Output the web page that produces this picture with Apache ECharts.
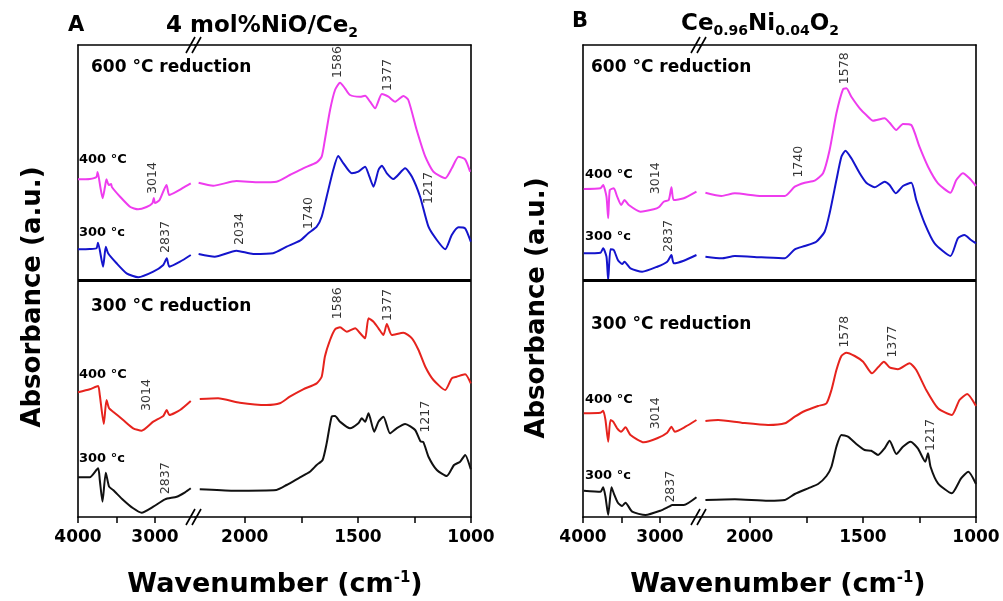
<!DOCTYPE html>
<html><head><meta charset="utf-8">
<script src="https://cdn.jsdelivr.net/npm/echarts@6/dist/echarts.min.js"></script>
<style>html,body{margin:0;padding:0;background:#fff}#c{width:1003px;height:601px}</style>
</head><body><div id="c"></div>
<script>
// ---- axis ticks / labels (wavenumber, cm-1), broken axis ----
const leftRange = [2480, 4000];
const rightRange = [1000, 2220];
const ticksLeft = [3000, 3500, 4000];
const labelsLeft = [3000, 4000];
const ticksRight = [1000, 1250, 1500, 1750, 2000];
const labelsRight = [1000, 1500, 2000];
const absRange = [0, 472];
const dividerLevel = 237;

// ---- Panel A : 4 mol% NiO/CeO2 ----
const A600_400 = [[4000,337.7],[3847,338],[3760,340],[3745,345],[3710,330],[3680,318.7],[3650,330],[3630,337.7],[3600,332],[3570,333],[3560,330],[3450,320],[3320,310],[3220,307.7],[3110,310],[3035,313.7],[3015,319],[3000,314],[2940,317],[2850,332],[2815,322],[2720,325.3],[2610,330.3],[2535,333.7],
 [2204,334.3],[2140,331.3],[2037,336],[1934,334.7],[1860,335.3],[1801,342],[1742,348.7],[1682,354.7],[1660,360.3],[1646,377],[1623,407],[1601,427],[1579,434.3],[1557,428.7],[1535,422],[1490,420.3],[1468,421.3],[1446,415.3],[1424,408.7],[1394,423],[1365,420.3],[1335,415.3],[1299,421],[1277,417],[1240,387],[1202,360.3],[1166,345.3],[1114,338.7],[1085,348.7],[1055,360.3],[1026,357.7],[1004,345.3]];
const A600_300 = [[4000,267.7],[3847,268],[3760,268.7],[3740,274.3],[3674,250.3],[3639,270.3],[3609,263.7],[3499,253.7],[3369,243.7],[3218,239.7],[3022,245.3],[2892,252],[2847,258.7],[2813,250.3],[2674,255.3],[2535,262],
 [2204,263],[2133,260.3],[2037,266.3],[1963,263],[1875,263.7],[1815,270.3],[1756,276.3],[1719,283.7],[1682,290.3],[1660,300.3],[1638,320.3],[1609,347],[1587,361],[1564,353.7],[1527,343.7],[1498,345.3],[1468,350.3],[1449,340.3],[1431,330.3],[1409,347],[1394,351.3],[1372,343.7],[1343,338],[1291,348.7],[1261,340.3],[1225,320.3],[1188,290.3],[1151,277],[1114,267.7],[1085,282],[1055,289.7],[1026,288.7],[1001,275.3]];
const A300_400 = [[4000,124.7],[3847,127.7],[3739,131],[3717,122],[3665,93],[3630,117],[3596,108.7],[3544,105.3],[3413,97],[3283,88.7],[3174,86.3],[3022,95.3],[2892,101],[2847,107],[2813,102],[2674,107],[2535,116],
 [2199,118],[2118,118.7],[2022,114.3],[1904,112],[1845,113.7],[1801,120.3],[1742,127.7],[1682,133.7],[1660,140.3],[1646,160.3],[1623,177],[1601,187.7],[1579,189.7],[1549,185.3],[1512,188.7],[1490,183.7],[1468,178.7],[1453,198.7],[1431,195.3],[1409,188.7],[1387,182],[1372,193],[1350,182],[1299,184.3],[1261,178.7],[1232,167],[1202,150.3],[1166,137],[1114,127],[1085,138.7],[1063,140.3],[1026,142.7],[1001,133.7]];
const A300_300 = [[4000,39.7],[3847,39.7],[3739,48.7],[3717,37],[3682,15.3],[3639,44.3],[3596,30.3],[3544,27],[3413,17],[3283,8.7],[3174,4.3],[3022,10.3],[2870,17.7],[2717,20.3],[2609,24.7],[2535,28.7],
 [2199,27.7],[2052,26.3],[1860,27],[1815,32],[1756,39.7],[1712,45.3],[1682,52],[1656,57],[1638,73.7],[1616,100.3],[1601,101],[1579,95.3],[1535,88.7],[1498,93.7],[1483,98.7],[1468,95.3],[1453,103.7],[1428,85.3],[1409,95.3],[1387,100.3],[1358,83.7],[1329,88.7],[1291,93],[1247,87],[1222,75.3],[1211,75],[1188,60.3],[1151,47],[1107,41],[1075,52],[1048,55.3],[1026,62],[1001,47.7]];
const A_peaks = [[1588,455,'1586'],[1366,442,'1377'],[3026,339,'3014'],[2857,280,'2837'],[2022,288,'2034'],[1716,304,'1740'],[1188,329,'1217'],
 [1588,213.7,'1586'],[1366,212,'1377'],[3108,122,'3014'],[2860,38.7,'2837'],[1200,100.3,'1217']];

// ---- Panel B : Ce0.96Ni0.04O2 ----
const B600_400 = [[3990,328],[3773,328.7],[3738,332],[3695,320.3],[3673,298.7],[3652,327],[3600,328.7],[3556,320.3],[3504,312],[3461,317],[3405,312],[3253,305.3],[3081,307.7],[3016,309.7],[2951,315.3],[2886,317],[2851,329.7],[2821,317],[2691,318.7],[2526,325.3],
 [2196,324.3],[2125,321],[2066,323.7],[1948,321],[1845,321],[1801,330.3],[1757,334.3],[1713,336.3],[1676,343.7],[1647,367],[1617,403.7],[1588,427.7],[1573,428.7],[1551,420.3],[1514,408.7],[1485,402],[1455,396.3],[1404,398.7],[1382,394.3],[1352,387],[1323,393],[1286,392],[1250,370.3],[1212,350.3],[1168,333.7],[1113,324.3],[1087,337],[1058,343.7],[1029,338.7],[1000,331]];
const B600_300 = [[3990,263.7],[3773,264.3],[3738,268.7],[3695,260.3],[3673,237],[3643,267.7],[3600,267],[3547,257],[3491,253],[3461,255.3],[3383,248.7],[3231,245.3],[3036,250.3],[2906,255.3],[2851,262],[2821,253.7],[2691,256.3],[2526,262],
 [2196,260.3],[2125,258.7],[2066,261],[1948,259.7],[1845,258.7],[1801,267.7],[1757,271],[1706,275.3],[1669,285.3],[1647,303.7],[1617,337],[1595,360.3],[1577,366.3],[1551,358.7],[1514,343.7],[1485,334.3],[1448,329.7],[1404,335.3],[1382,332],[1355,323.7],[1323,331],[1286,334.3],[1264,317],[1227,293.7],[1183,273.7],[1113,261],[1080,278.7],[1051,282],[1022,277],[1000,273.7]];
const B300_400 = [[3990,103.7],[3773,104.3],[3738,106.3],[3708,97],[3673,75.3],[3643,97],[3608,95.3],[3556,88.7],[3504,85.3],[3448,89.7],[3383,82],[3210,74.7],[3036,78.7],[2906,84.3],[2851,90.3],[2808,85.3],[2669,90.3],[2526,97],
 [2196,96],[2140,97],[2037,94.3],[1919,92],[1845,93.7],[1801,100.3],[1757,106],[1698,111],[1661,113.7],[1639,127],[1617,147],[1595,161],[1573,164.3],[1536,161],[1499,155.3],[1460,143.7],[1433,149.7],[1407,155.3],[1382,149.7],[1345,147.7],[1294,153.7],[1264,147],[1220,127],[1168,108.7],[1107,102],[1073,117],[1039,123],[1000,111]];
const B300_300 = [[3990,26.3],[3773,25.3],[3738,29.7],[3708,20.3],[3673,2],[3630,29.7],[3600,23.7],[3547,14.3],[3491,11],[3448,14.3],[3361,5.3],[3188,2],[2994,6.3],[2886,10.3],[2838,12],[2691,12],[2526,19.7],
 [2196,17],[2066,17.7],[1919,16.3],[1845,17],[1801,23],[1742,28.7],[1698,33],[1661,41],[1639,50.3],[1617,70.3],[1595,82],[1566,80.3],[1529,73],[1492,67],[1463,66.3],[1433,62],[1404,68.7],[1382,76.3],[1352,63],[1323,70.3],[1289,75.3],[1257,68.7],[1224,55.3],[1212,63.7],[1201,50.3],[1168,33.7],[1107,23.7],[1066,38.7],[1034,45.3],[1000,33]];
const B_peaks = [[1581,448.7,'1578'],[1782,355.3,'1740'],[3058,338.7,'3014'],[2886,281,'2837'],
 [1581,185.3,'1578'],[1367,175.3,'1377'],[3058,103.7,'3014'],[2864,30.3,'2837'],[1198,82,'1217']];

const COLORS = {mag:'#ee3cee', blue:'#1414cc', red:'#e6231d', black:'#111111'};
const FONT = 'DejaVu Sans';

const panels = [
  {x0:78, spectra:[[A600_400,COLORS.mag],[A600_300,COLORS.blue],[A300_400,COLORS.red],[A300_300,COLORS.black]], peaks:A_peaks},
  {x0:583, spectra:[[B600_400,COLORS.mag],[B600_300,COLORS.blue],[B300_400,COLORS.red],[B300_300,COLORS.black]], peaks:B_peaks}
];
const LW = 117, RW = 276, TOP = 45, H = 472;
const BREAK = 2350;

const grid = [], xAxis = [], yAxis = [], series = [];
panels.forEach((p, pi) => {
  [0,1].forEach(side => {
    const g = grid.length;
    grid.push({left: side ? p.x0 + LW : p.x0, width: side ? RW : LW, top: TOP, height: H});
    const rng = side ? rightRange : leftRange;
    const tk = side ? ticksRight : ticksLeft;
    const lb = side ? labelsRight : labelsLeft;
    xAxis.push({type:'value', gridIndex:g, inverse:true, min:rng[0], max:rng[1], position:'bottom',
      axisLine:{show:true, lineStyle:{color:'#000', width:1.6}},
      axisTick:{show:true, inside:false, length:6, lineStyle:{color:'#000', width:1.5}, customValues: tk},
      axisLabel:{show:true, customValues: lb, margin:12, formatter: v => String(v), fontFamily:FONT, fontWeight:'bold', fontSize:17, color:'#000'},
      splitLine:{show:false}});
    xAxis.push({type:'value', gridIndex:g, inverse:true, min:rng[0], max:rng[1], position:'top',
      axisLine:{show:true, lineStyle:{color:'#000', width:1.6}}, axisTick:{show:false}, axisLabel:{show:false}, splitLine:{show:false}});
    yAxis.push({type:'value', gridIndex:g, min:absRange[0], max:absRange[1], position: side ? 'right' : 'left',
      axisLine:{show:true, lineStyle:{color:'#000', width:1.6}}, axisTick:{show:false}, axisLabel:{show:false}, splitLine:{show:false}});
    p.spectra.forEach(([pts, col], si) => {
      const d = pts.filter(q => side ? q[0] < BREAK : q[0] > BREAK);
      const s = {type:'line', xAxisIndex: 2*g, yAxisIndex: g, data: d, showSymbol:false, smooth:0.2,
        lineStyle:{color:col, width:2}, itemStyle:{color:col}, silent:true, animation:false, z:3};
      if (si === 0) {
        s.markLine = {silent:true, symbol:'none', label:{show:false}, animation:false,
          lineStyle:{color:'#000', width:3, type:'solid'}, data:[{yAxis: dividerLevel}]};
      }
      series.push(s);
    });
    series.push({type:'scatter', xAxisIndex: 2*g, yAxisIndex: g, symbolSize:1, itemStyle:{color:'rgba(0,0,0,0)'},
      data: p.peaks.filter(q => side ? q[0] < BREAK : q[0] > BREAK), animation:false, silent:true,
      label:{show:true, position:'inside', rotate:90, formatter: o => o.value[2], fontFamily:FONT, fontSize:12.5, color:'#000'}});
  });
});

function txt(x, y, t, size, opts) {
  return Object.assign({type:'text', x, y, style:Object.assign({text:t, fontFamily:FONT, fontWeight:'bold', fontSize:size, fill:'#000', textAlign:'left', textVerticalAlign:'middle'}, opts||{})});
}
const graphic = [];
// break marks
panels.forEach(p => {
  const bx = p.x0 + LW;
  [TOP, TOP + H].forEach(yy => {
    [-4, 2].forEach(dx => {
      graphic.push({type:'line', shape:{x1:bx+dx-5, y1:yy+8, x2:bx+dx+4, y2:yy-8}, style:{stroke:'#000', lineWidth:1.6}, z:10});
    });
  });
});
const richTitle = {
  a:{fontFamily:FONT, fontWeight:'bold', fontSize:23, fill:'#000'},
  s:{fontFamily:FONT, fontWeight:'bold', fontSize:14, fill:'#000', padding:[15,0,0,0]}
};
graphic.push(
  txt(68, 26, 'A', 21),
  {type:'text', x:262, y:26, style:{text:'{a|4 mol%NiO/Ce}{s|2}', rich:richTitle, textAlign:'center', textVerticalAlign:'middle'}},
  txt(572, 22, 'B', 21),
  {type:'text', x:760, y:24, style:{text:'{a|Ce}{s|0.96}{a|Ni}{s|0.04}{a|O}{s|2}', rich:richTitle, textAlign:'center', textVerticalAlign:'middle'}},
  txt(91, 68, '600 °C reduction', 17), txt(91, 307, '300 °C reduction', 17),
  txt(591, 68, '600 °C reduction', 17), txt(591, 325, '300 °C reduction', 17),
  txt(79, 160, '400 °C', 13), txt(79, 233, '300 °c', 13), txt(79, 375, '400 °C', 13), txt(79, 459, '300 °c', 13),
  txt(585, 175, '400 °C', 13), txt(585, 237, '300 °c', 13), txt(585, 400, '400 °C', 13), txt(585, 476, '300 °c', 13),
  {type:'text', x:33, y:297, rotation:Math.PI/2, style:{text:'Absorbance (a.u.)', fontFamily:FONT, fontWeight:'bold', fontSize:26, fill:'#000', textAlign:'center', textVerticalAlign:'middle'}},
  {type:'text', x:537, y:308, rotation:Math.PI/2, style:{text:'Absorbance (a.u.)', fontFamily:FONT, fontWeight:'bold', fontSize:26, fill:'#000', textAlign:'center', textVerticalAlign:'middle'}}
);
const richX = {
  a:{fontFamily:FONT, fontWeight:'bold', fontSize:27, fill:'#000'},
  s:{fontFamily:FONT, fontWeight:'bold', fontSize:15, fill:'#000', padding:[0,0,14,0]}
};
graphic.push(
  {type:'text', x:275, y:585, style:{text:'{a|Wavenumber (cm}{s|-1}{a|)}', rich:richX, textAlign:'center', textVerticalAlign:'middle'}},
  {type:'text', x:778, y:585, style:{text:'{a|Wavenumber (cm}{s|-1}{a|)}', rich:richX, textAlign:'center', textVerticalAlign:'middle'}}
);

const chart = echarts.init(document.getElementById('c'), null, {renderer:'canvas'});
chart.setOption({backgroundColor:'#fff', animation:false, grid, xAxis, yAxis, series, graphic});
</script></body></html>
